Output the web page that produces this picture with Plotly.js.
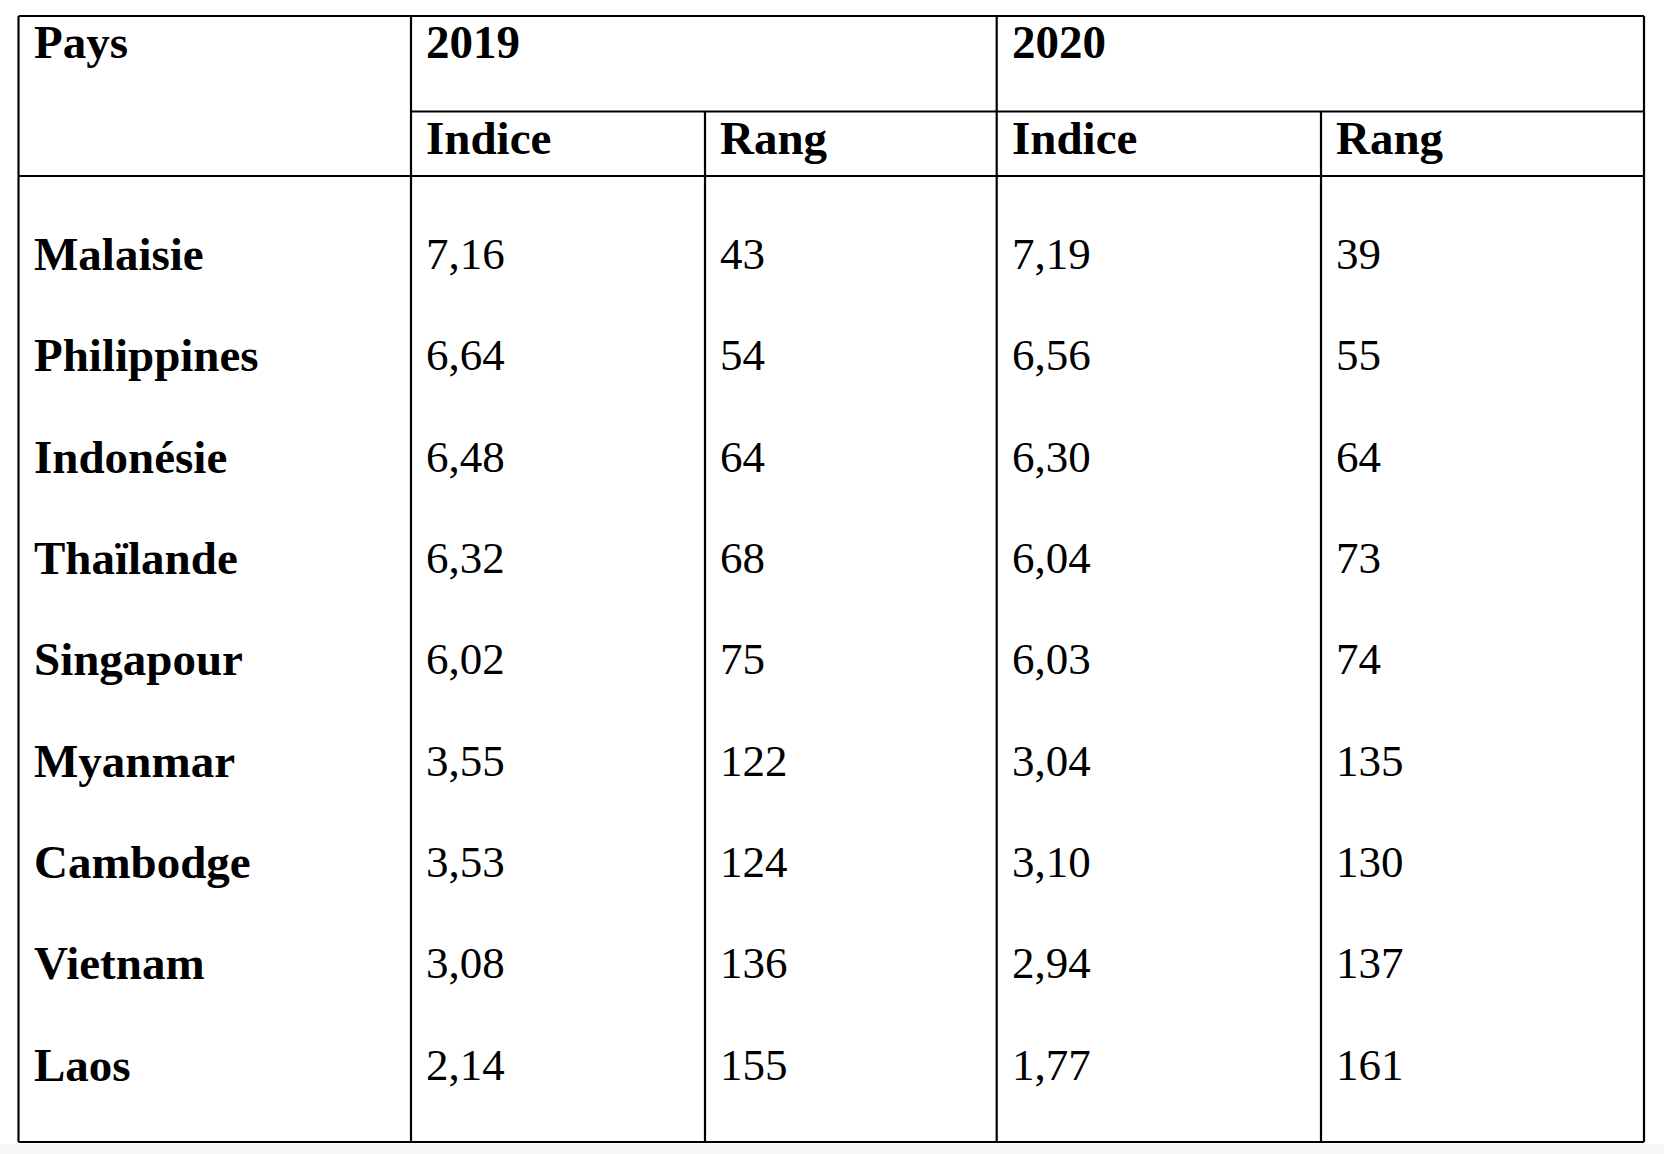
<!DOCTYPE html>
<html>
<head>
<meta charset="utf-8">
<script src="https://cdn.plot.ly/plotly-3.0.1.min.js"></script>
<style>
html,body{margin:0;padding:0;background:#ffffff;overflow:hidden;}
#chart{width:1664px;height:1154px;}
</style>
</head>
<body>
<div id="chart"></div>
<script>
// ---- data ----
const countries = ['Malaisie','Philippines','Indonésie','Thaïlande','Singapour','Myanmar','Cambodge','Vietnam','Laos'];
const indice2019 = [7.16, 6.64, 6.48, 6.32, 6.02, 3.55, 3.53, 3.08, 2.14];
const rang2019   = [43, 54, 64, 68, 75, 122, 124, 136, 155];
const indice2020 = [7.19, 6.56, 6.30, 6.04, 6.03, 3.04, 3.10, 2.94, 1.77];
const rang2020   = [39, 55, 64, 73, 74, 135, 130, 137, 161];
const yearLabels = ['2019', '2020'];
const subLabels  = ['Indice', 'Rang'];
const firstHeader = 'Pays';

// ---- layout constants (pixels in axis units) ----
const W = 1664, H = 1154;
const colEdges = [18.5, 411, 705, 996.7, 1321, 1644];
const topY = 16, midY = 111.5, headBottomY = 176, bottomY = 1142;
const textPad = 15;
const headRow1Y = 41.5, headRow2Y = 137.5;
const row0Y = 254, rowStep = 101.35;
const FONT = 'Liberation Serif, Times New Roman, serif';
const FS = 45, FS_BOLD = 47;

const fmt = v => v.toFixed(2).replace('.', ',');

const annotations = [];
function addText(colIdx, y, text, bold) {
  annotations.push({
    xref: 'x', yref: 'y',
    x: colEdges[colIdx] + textPad, y: y,
    xanchor: 'left', yanchor: 'middle',
    text: bold ? '<b>' + text + '</b>' : text,
    showarrow: false,
    borderpad: 0, borderwidth: 0,
    font: {family: FONT, size: bold ? FS_BOLD : FS, color: '#000000'}
  });
}

// header
addText(0, headRow1Y, firstHeader, true);
addText(1, headRow1Y, yearLabels[0], true);
addText(3, headRow1Y, yearLabels[1], true);
addText(1, headRow2Y, subLabels[0], true);
addText(2, headRow2Y, subLabels[1], true);
addText(3, headRow2Y, subLabels[0], true);
addText(4, headRow2Y, subLabels[1], true);

// body
countries.forEach((c, i) => {
  const y = row0Y + i * rowStep;
  addText(0, y, c, true);
  addText(1, y, fmt(indice2019[i]), false);
  addText(2, y, String(rang2019[i]), false);
  addText(3, y, fmt(indice2020[i]), false);
  addText(4, y, String(rang2020[i]), false);
});

// grid lines
const shapes = [];
const ln = {color: '#000000', width: 2.2};
function hline(y, x0, x1) { shapes.push({type:'line', xref:'x', yref:'y', x0:x0, x1:x1, y0:y, y1:y, line:ln}); }
function vline(x, y0, y1) { shapes.push({type:'line', xref:'x', yref:'y', x0:x, x1:x, y0:y0, y1:y1, line:ln}); }

// bottom light strip
shapes.push({type:'rect', xref:'x', yref:'y', x0:0, x1:W, y0:bottomY + 2, y1:H, fillcolor:'#f6f6f6', line:{width:0}, layer:'below'});

vline(colEdges[0], topY, bottomY);
vline(colEdges[1], topY, bottomY);
vline(colEdges[2], midY, bottomY);
vline(colEdges[3], topY, bottomY);
vline(colEdges[4], midY, bottomY);
vline(colEdges[5], topY, bottomY);
hline(topY, colEdges[0], colEdges[5]);
hline(midY, colEdges[1], colEdges[5]);
hline(headBottomY, colEdges[0], colEdges[5]);
hline(bottomY, colEdges[0], colEdges[5]);

const layout = {
  width: W, height: H,
  margin: {l:0, r:0, t:0, b:0, pad:0},
  paper_bgcolor: '#ffffff', plot_bgcolor: '#ffffff',
  showlegend: false,
  xaxis: {range:[0, W], visible:false, fixedrange:true},
  yaxis: {range:[H, 0], visible:false, fixedrange:true},
  annotations: annotations,
  shapes: shapes
};

Plotly.newPlot('chart', [{type:'scatter', x:[], y:[], mode:'markers', hoverinfo:'skip'}], layout, {displayModeBar:false, staticPlot:true});
</script>
</body>
</html>
